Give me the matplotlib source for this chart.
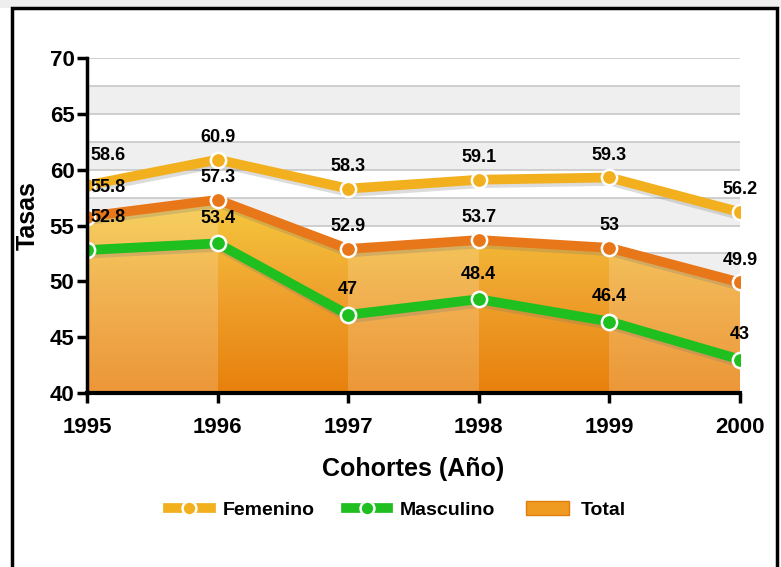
import numpy as np
import matplotlib
matplotlib.use("Agg")
import matplotlib.pyplot as plt
import matplotlib.patheffects as pe
from matplotlib.lines import Line2D
from matplotlib.patches import Rectangle, Patch
from matplotlib.colors import LinearSegmentedColormap

# =========================================================
# DATOS
# =========================================================

anios      = [1995, 1996, 1997, 1998, 1999, 2000]
femenino   = [58.6, 60.9, 58.3, 59.1, 59.3, 56.2]
masculino  = [52.8, 53.4, 47, 48.4, 46.4, 43]
total      = [55.8, 57.3, 52.9, 53.7, 53, 49.9]

etiq_fem   = ["58.6", "60.9", "58.3", "59.1", "59.3", "56.2"]
etiq_mas   = ["52.8", "53.4", "47", "48.4", "46.4", "43"]
etiq_tot   = ["55.8", "57.3", "52.9", "53.7", "53", "49.9"]

COL_FEM = "#F2B01E"
COL_MAS = "#1FBF1F"
COL_TOT = "#E8771A"

plt.rcParams["font.family"] = ["Liberation Sans", "DejaVu Sans"]
plt.rcParams["font.weight"] = "bold"

fig = plt.figure(figsize=(7.81, 5.67), dpi=100)
fig.patch.set_facecolor("white")

# marco exterior
fig.patches.append(Rectangle((0, 1 - 8 / 567), 1, 8 / 567, transform=fig.transFigure,
                             facecolor="#eeeeee", edgecolor="none", zorder=0))
fig.patches.append(Rectangle((12 / 781, -0.01), 765 / 781, 1.01 - 8 / 567, transform=fig.transFigure,
                             facecolor="none", edgecolor="black", lw=2.5, zorder=5))

ax = fig.add_axes([87 / 781, 1 - 393 / 567, 653 / 781, 335 / 567])
ax.set_xlim(anios[0], anios[-1])
ax.set_ylim(40, 70)

# bandas de fondo
niveles = np.arange(40, 70.01, 2.5)
for i, y0 in enumerate(niveles[:-1]):
    if i % 2 == 0:
        ax.axhspan(y0, y0 + 2.5, color="#efefef", zorder=0, lw=0)
for y in niveles:
    ax.axhline(y, color="#c8c8c8", lw=1.2, zorder=0.5)

# area total con degradado
poly = ax.fill_between(anios, 40, total, color="none", lw=0, zorder=1)
cmap = LinearSegmentedColormap.from_list("tot", ["#E8800C", "#EFA22E", "#F6CC3E"])
grad = np.linspace(0, 1, 256).reshape(-1, 1)
img = ax.imshow(grad, cmap=cmap, origin="lower", aspect="auto",
                extent=[anios[0], anios[-1], 40, 58], zorder=1)
clip = poly.get_paths()[0]
img.set_clip_path(clip, ax.transData)
for i in range(len(anios) - 1):
    if i % 2 == 0:
        r = ax.axvspan(anios[i], anios[i + 1], color="white", alpha=0.18, lw=0, zorder=1.1)
        r.set_clip_path(clip, ax.transData)

sombra = [pe.SimpleLineShadow(offset=(1, -2.5), shadow_color="#777777", alpha=0.25), pe.Normal()]

for vals, col in [(femenino, COL_FEM), (total, COL_TOT), (masculino, COL_MAS)]:
    ax.plot(anios, vals, color=col, lw=7, zorder=3, solid_joinstyle="miter",
            path_effects=sombra)
    ax.plot(anios, vals, "o", color=col, ms=11, mec="white", mew=1.8, zorder=4)

# etiquetas de datos
for i, x in enumerate(anios):
    dx = 15 if i == 0 else 0
    dy_extra = 5 if i == 0 else 0
    ax.annotate(etiq_fem[i], (x, femenino[i]), xytext=(dx, 10 + dy_extra), textcoords="offset points",
                ha="center", va="bottom", fontsize=13, fontweight="bold", zorder=6)
    ax.annotate(etiq_tot[i], (x, total[i]), xytext=(dx, 10 + dy_extra), textcoords="offset points",
                ha="center", va="bottom", fontsize=13, fontweight="bold", zorder=6)
    ax.annotate(etiq_mas[i], (x, masculino[i]), xytext=(dx, 12 + dy_extra), textcoords="offset points",
                ha="center", va="bottom", fontsize=13, fontweight="bold", zorder=6)

# ejes
for s in ["top", "right"]:
    ax.spines[s].set_visible(False)
ax.spines["left"].set_linewidth(2.5)
ax.spines["bottom"].set_linewidth(3)
ax.spines["left"].set_zorder(5)
ax.spines["bottom"].set_zorder(5)
ax.set_xticks(anios)
ax.set_xticklabels([str(a) for a in anios])
ax.set_yticks(np.arange(40, 71, 5))
ax.tick_params(axis="both", direction="out", length=7, width=2.5, labelsize=16)
ax.tick_params(axis="x", pad=10)
ax.tick_params(axis="y", pad=2)
for t in ax.get_xticklabels() + ax.get_yticklabels():
    t.set_fontweight("bold")

ax.set_ylabel("Tasas", fontsize=18, fontweight="bold")
ax.yaxis.set_label_coords(-0.072, 0.53)
ax.set_xlabel("Cohortes (Año)", fontsize=18, fontweight="bold", labelpad=14)

handles = [
    Line2D([0], [0], color=COL_FEM, lw=7, marker="o", ms=10, mec="white", mew=1.8),
    Line2D([0], [0], color=COL_MAS, lw=7, marker="o", ms=10, mec="white", mew=1.8),
    Patch(facecolor="#EF9A20", edgecolor="#E07E10"),
]
fig.legend(handles, ["Femenino", "Masculino", "Total"], ncol=3, frameon=False,
           loc="center", bbox_to_anchor=(397 / 781, 1 - 510 / 567),
           handlelength=2.2, columnspacing=1.6, handletextpad=0.6,
           prop={"weight": "bold", "size": 14})

fig.savefig("out.png", dpi=100)
